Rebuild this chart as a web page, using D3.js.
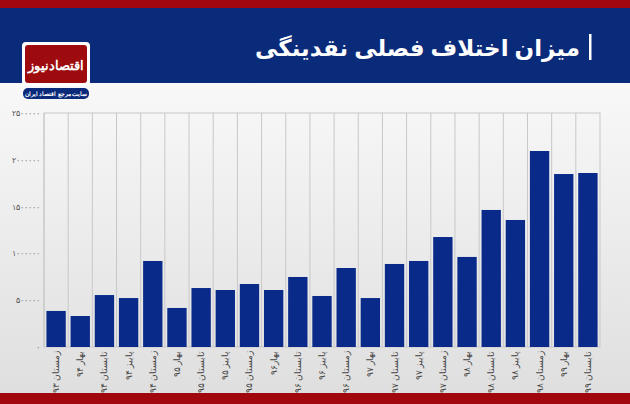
<!DOCTYPE html>
<html><head><meta charset="utf-8">
<script src="https://cdn.jsdelivr.net/npm/d3@7"></script>
<style>body{margin:0}svg{display:block}</style>
</head><body><svg width="630" height="404"></svg>
<script>
const categories = ['زمستان ۹۳','بهار ۹۴','تابستان ۹۴','پاییز ۹۴','زمستان ۹۴','بهار ۹۵','تابستان ۹۵','پاییز ۹۵','زمستان ۹۵','بهار۹۶','تابستان ۹۶','پاییز ۹۶','زمستان ۹۶','بهار ۹۷','تابستان ۹۷','پاییز ۹۷','زمستان ۹۷','بهار ۹۸','تابستان ۹۸','پاییز ۹۸','زمستان ۹۸','بهار ۹۹','تابستان ۹۹'];
const values = [385000,331000,555000,523000,919000,417000,630000,609000,673000,609000,748000,545000,844000,523000,887000,919000,1175000,962000,1464000,1357000,2094000,1848000,1859000];
const yTicks = [0,500000,1000000,1500000,2000000,2500000];

const fa = n => String(n).replace(/\d/g, d => '۰۱۲۳۴۵۶۷۸۹'[d]);
const svg = d3.select('svg');
const defs = svg.append('defs');
const bg = defs.append('linearGradient').attr('id','bg').attr('x1',0).attr('y1',0).attr('x2',0).attr('y2',1);
bg.append('stop').attr('offset','0%').attr('stop-color','#ffffff');
bg.append('stop').attr('offset','100%').attr('stop-color','#dedede');

svg.append('rect').attr('width',630).attr('height',404).attr('fill','url(#bg)');
svg.append('rect').attr('width',630).attr('height',8).attr('fill','#a0080e');
svg.append('rect').attr('y',8).attr('width',630).attr('height',75).attr('fill','#0a2a7a');
svg.append('rect').attr('y',393).attr('width',630).attr('height',11).attr('fill','#a0080e');

svg.append('text').attr('x',580).attr('y',56).attr('text-anchor','end')
  .attr('fill','#fff').attr('font-family','Noto Sans, DejaVu Sans').attr('font-size',23).attr('font-weight','bold')
  .text('میزان اختلاف فصلی نقدینگی');
svg.append('rect').attr('x',589).attr('y',34).attr('width',2.5).attr('height',26).attr('fill','#fff');

// logo
svg.append('rect').attr('x',22).attr('y',42).attr('width',68).attr('height',44).attr('rx',4).attr('fill','#fff');
svg.append('rect').attr('x',25).attr('y',45).attr('width',62).attr('height',38).attr('rx',3).attr('fill','#9e0b0f');
svg.append('text').attr('x',56).attr('y',70).attr('text-anchor','middle').attr('fill','#fff')
  .attr('font-family','Noto Sans').attr('font-size',13).attr('font-weight','bold').text('اقتصادنیوز');
svg.append('rect').attr('x',23).attr('y',88).attr('width',66).attr('height',11).attr('rx',5).attr('fill','#0a2a7a');
svg.append('text').attr('x',56).attr('y',96).attr('text-anchor','middle').attr('fill','#fff')
  .attr('font-family','Noto Sans').attr('font-size',5.5).attr('font-weight','bold').text('سایت مرجع اقتصاد ایران');

const x = d3.scaleBand().domain(categories).range([44,600]).paddingInner(0.2).paddingOuter(0.1);
const y = d3.scaleLinear().domain([0,2500000]).range([347,113]);
const step = x.step();

const g = svg.append('g');
g.append('rect').attr('x',44).attr('y',113).attr('width',556).attr('height',234).attr('fill','none').attr('stroke','#c8c8c8');
g.selectAll('line.v').data(categories).enter().append('line')
  .attr('x1',(d,i)=>44+i*step).attr('x2',(d,i)=>44+i*step).attr('y1',113).attr('y2',347)
  .attr('stroke','#c8c8c8');

g.selectAll('text.yt').data(yTicks).enter().append('text')
  .attr('x',40).attr('y',d=>y(d)+3).attr('text-anchor','end').attr('fill','#555')
  .attr('font-family','Noto Sans').attr('font-size',8).text(d=>fa(d));

g.selectAll('rect.bar').data(values).enter().append('rect')
  .attr('x',(d,i)=>x(categories[i])).attr('width',x.bandwidth())
  .attr('y',d=>y(d)).attr('height',d=>347-y(d)).attr('fill','#0a2a8a');

g.selectAll('text.xl').data(categories).enter().append('text')
  .attr('transform',d=>`translate(${x(d)+x.bandwidth()/2+3},351) rotate(-90)`)
  .attr('text-anchor','end').attr('fill','#444')
  .attr('font-family','Noto Sans').attr('font-size',9).text(d=>d);
</script></body></html>
